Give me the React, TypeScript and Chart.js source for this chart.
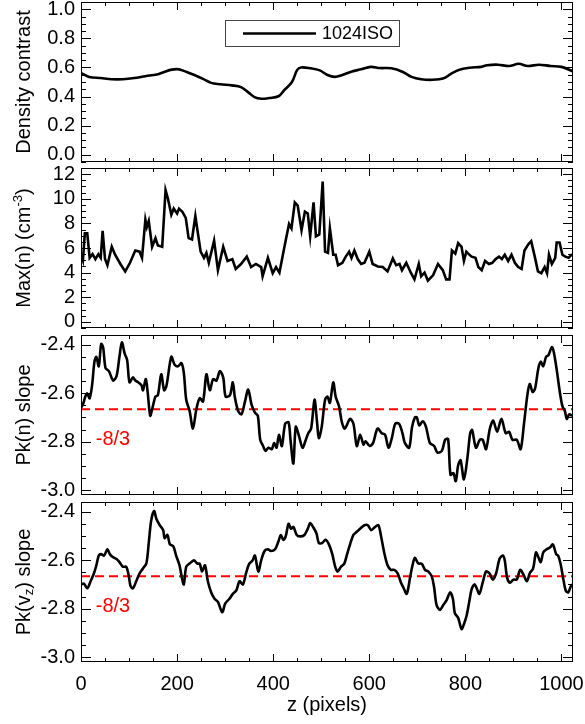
import React, { useEffect, useRef } from 'react';
import { Chart, registerables } from 'chart.js';

Chart.register(...registerables);

const FONT = '"Liberation Sans", Arial, Helvetica, sans-serif';

// ---------- Panel 1: density contrast ----------
const densityZ = [0, 17, 41, 64, 87, 111, 134, 158, 173, 189, 204, 220, 236, 255, 271, 290, 314, 333, 349, 361, 376, 392, 411, 423, 439, 450, 458, 478, 497, 513, 528, 544, 564, 583, 603, 622, 646, 670, 688, 708, 731, 755, 770, 786, 809, 833, 845, 868, 891, 911, 930, 953, 977, 1000, 1024];
const densityVal = [0.563, 0.535, 0.527, 0.519, 0.519, 0.527, 0.54, 0.552, 0.569, 0.585, 0.587, 0.569, 0.548, 0.52, 0.494, 0.485, 0.477, 0.465, 0.427, 0.396, 0.385, 0.39, 0.402, 0.444, 0.5, 0.583, 0.6, 0.594, 0.58, 0.548, 0.535, 0.548, 0.573, 0.587, 0.604, 0.596, 0.594, 0.569, 0.535, 0.519, 0.515, 0.525, 0.556, 0.583, 0.598, 0.604, 0.615, 0.619, 0.61, 0.625, 0.61, 0.619, 0.61, 0.604, 0.573];

// ---------- Panel 2: Max(n) ----------
const maxnZ = [0, 4, 8, 13, 18, 24, 30, 36, 41, 45, 50, 55, 64, 71, 82, 92, 102, 113, 122, 127, 134, 137, 141, 148, 155, 160, 169, 176, 181, 188, 193, 200, 204, 211, 218, 224, 231, 238, 249, 256, 261, 266, 277, 285, 296, 305, 315, 322, 333, 345, 354, 364, 375, 378, 389, 399, 406, 413, 419, 426, 433, 438, 445, 451, 459, 466, 472, 477, 484, 489, 496, 503, 508, 514, 518, 525, 530, 535, 544, 551, 558, 563, 569, 576, 583, 590, 600, 607, 618, 628, 638, 649, 656, 663, 668, 677, 687, 694, 703, 708, 715, 722, 733, 743, 753, 760, 767, 772, 779, 785, 792, 797, 802, 807, 813, 821, 827, 834, 841, 849, 856, 863, 870, 876, 882, 889, 896, 903, 910, 917, 923, 931, 937, 945, 951, 958, 965, 970, 974, 980, 987, 990, 996, 1002, 1008, 1015, 1022];
const maxnVal = [5.5, 5.0, 7.2, 7.2, 5.2, 5.5, 5.1, 5.5, 5.2, 7.4, 5.1, 4.6, 6.1, 5.45, 4.7, 4.1, 4.8, 5.8, 5.7, 5.2, 8.3, 7.7, 8.2, 6.1, 6.8, 6.2, 6.1, 10.7, 10.0, 8.7, 9.2, 8.8, 9.2, 8.95, 8.45, 6.8, 6.7, 8.6, 5.7, 5.2, 5.6, 4.8, 6.6, 4.2, 6.1, 4.95, 5.1, 4.3, 4.7, 5.3, 4.45, 4.7, 4.45, 3.7, 5.2, 3.95, 4.45, 4.0, 5.2, 6.6, 7.95, 7.6, 9.7, 9.45, 7.45, 8.95, 8.8, 6.95, 9.7, 6.95, 7.1, 11.4, 5.7, 5.6, 7.6, 5.45, 5.45, 4.6, 4.8, 5.3, 5.7, 5.2, 5.8, 5.1, 4.7, 4.8, 5.7, 4.7, 4.5, 4.45, 4.1, 5.15, 4.6, 4.7, 4.2, 4.8, 3.95, 3.45, 4.7, 3.7, 4.0, 3.35, 3.8, 4.7, 4.2, 3.45, 3.45, 5.8, 5.55, 6.4, 6.1, 4.95, 5.7, 5.5, 5.3, 5.2, 4.45, 4.2, 4.95, 4.7, 4.8, 5.1, 5.3, 5.1, 5.45, 4.95, 5.45, 4.8, 4.45, 4.3, 5.8, 6.3, 6.55, 5.2, 4.1, 3.95, 4.45, 3.95, 5.45, 4.7, 5.2, 6.45, 6.45, 5.45, 5.3, 5.2, 5.5];

// ---------- Panel 3: Pk(n) slope ----------
const pknZ = [0, 4, 9, 13, 18, 23, 28, 32, 37, 42, 46, 51, 58, 67, 74, 80, 85, 91, 96, 101, 108, 113, 119, 126, 129, 135, 139, 144, 148, 155, 160, 167, 173, 178, 188, 195, 202, 209, 214, 219, 226, 233, 240, 247, 254, 261, 268, 275, 282, 289, 296, 301, 310, 316, 320, 327, 334, 341, 348, 355, 362, 368, 373, 379, 384, 390, 397, 402, 407, 412, 418, 425, 432, 436, 442, 447, 454, 461, 468, 473, 479, 486, 491, 495, 501, 508, 513, 518, 525, 530, 537, 543, 549, 560, 567, 574, 581, 588, 592, 601, 608, 617, 626, 633, 640, 647, 654, 662, 669, 674, 683, 689, 695, 699, 704, 711, 718, 726, 735, 742, 751, 758, 764, 769, 775, 780, 785, 790, 797, 804, 810, 814, 822, 830, 836, 843, 851, 858, 866, 875, 884, 891, 898, 907, 915, 922, 929, 934, 940, 945, 952, 957, 962, 968, 973, 980, 984, 990, 997, 1002, 1007, 1011, 1016, 1022];
const pknVal = [-2.66, -2.647, -2.614, -2.601, -2.621, -2.568, -2.47, -2.45, -2.489, -2.397, -2.41, -2.496, -2.509, -2.548, -2.529, -2.45, -2.39, -2.437, -2.463, -2.555, -2.535, -2.548, -2.555, -2.568, -2.588, -2.542, -2.601, -2.693, -2.667, -2.614, -2.608, -2.522, -2.588, -2.568, -2.45, -2.483, -2.489, -2.476, -2.516, -2.627, -2.673, -2.746, -2.667, -2.621, -2.634, -2.522, -2.588, -2.542, -2.548, -2.509, -2.535, -2.614, -2.608, -2.555, -2.614, -2.673, -2.687, -2.637, -2.585, -2.647, -2.68, -2.693, -2.792, -2.818, -2.838, -2.825, -2.831, -2.805, -2.825, -2.772, -2.818, -2.726, -2.72, -2.792, -2.89, -2.739, -2.779, -2.825, -2.792, -2.765, -2.746, -2.627, -2.713, -2.785, -2.739, -2.627, -2.614, -2.64, -2.555, -2.614, -2.654, -2.72, -2.746, -2.706, -2.726, -2.818, -2.772, -2.812, -2.798, -2.818, -2.805, -2.746, -2.765, -2.772, -2.825, -2.785, -2.726, -2.726, -2.765, -2.805, -2.825, -2.74, -2.70, -2.70, -2.733, -2.716, -2.739, -2.805, -2.818, -2.845, -2.838, -2.792, -2.789, -2.937, -2.93, -2.963, -2.897, -2.877, -2.956, -2.871, -2.765, -2.752, -2.825, -2.792, -2.792, -2.831, -2.746, -2.713, -2.759, -2.706, -2.765, -2.759, -2.792, -2.792, -2.831, -2.726, -2.608, -2.562, -2.595, -2.581, -2.496, -2.47, -2.489, -2.45, -2.443, -2.41, -2.43, -2.502, -2.601, -2.654, -2.673, -2.706, -2.687, -2.693];

// ---------- Panel 4: Pk(v_z) slope ----------
const pkvZ = [0, 6, 13, 20, 27, 32, 37, 42, 48, 55, 60, 67, 74, 80, 87, 94, 99, 103, 108, 115, 122, 129, 136, 141, 146, 152, 157, 164, 171, 174, 180, 185, 192, 198, 205, 210, 214, 219, 226, 235, 242, 247, 252, 258, 264, 271, 278, 285, 294, 300, 309, 316, 323, 330, 337, 344, 350, 357, 362, 369, 375, 382, 389, 395, 404, 411, 416, 421, 426, 432, 437, 442, 449, 456, 465, 472, 477, 483, 490, 495, 502, 509, 516, 523, 529, 534, 541, 548, 553, 560, 567, 574, 581, 590, 597, 604, 612, 619, 624, 631, 638, 645, 652, 659, 666, 671, 678, 685, 690, 695, 702, 709, 716, 723, 730, 735, 740, 747, 754, 761, 768, 774, 778, 785, 792, 797, 803, 808, 813, 819, 823, 829, 836, 843, 850, 857, 864, 871, 878, 882, 887, 893, 900, 907, 914, 921, 928, 934, 941, 947, 952, 957, 962, 969, 976, 982, 989, 993, 998, 1004, 1009, 1014, 1019, 1023];
const pkvVal = [-2.7, -2.697, -2.716, -2.687, -2.654, -2.621, -2.581, -2.575, -2.581, -2.555, -2.575, -2.588, -2.595, -2.608, -2.627, -2.627, -2.66, -2.706, -2.716, -2.687, -2.654, -2.634, -2.614, -2.529, -2.437, -2.397, -2.43, -2.456, -2.476, -2.509, -2.496, -2.535, -2.542, -2.581, -2.621, -2.673, -2.7, -2.627, -2.614, -2.601, -2.614, -2.614, -2.647, -2.621, -2.687, -2.733, -2.759, -2.772, -2.815, -2.779, -2.759, -2.739, -2.726, -2.687, -2.7, -2.65, -2.615, -2.601, -2.581, -2.647, -2.601, -2.562, -2.555, -2.562, -2.555, -2.522, -2.496, -2.516, -2.502, -2.45, -2.47, -2.463, -2.496, -2.502, -2.496, -2.47, -2.447, -2.463, -2.489, -2.529, -2.529, -2.516, -2.535, -2.575, -2.627, -2.647, -2.627, -2.614, -2.581, -2.535, -2.496, -2.483, -2.47, -2.456, -2.456, -2.476, -2.463, -2.456, -2.496, -2.568, -2.621, -2.64, -2.64, -2.654, -2.693, -2.713, -2.739, -2.67, -2.621, -2.59, -2.614, -2.614, -2.64, -2.647, -2.667, -2.713, -2.785, -2.805, -2.785, -2.765, -2.733, -2.759, -2.818, -2.838, -2.884, -2.864, -2.825, -2.772, -2.72, -2.7, -2.713, -2.739, -2.693, -2.647, -2.654, -2.68, -2.654, -2.595, -2.581, -2.601, -2.673, -2.693, -2.68, -2.68, -2.64, -2.66, -2.687, -2.654, -2.634, -2.568, -2.588, -2.608, -2.568, -2.555, -2.548, -2.535, -2.575, -2.581, -2.614, -2.68, -2.726, -2.733, -2.71, -2.7];

// ---------- axis ticks and labels ----------
const X_TICKS = [0, 200, 400, 600, 800, 1000];
const DENSITY_TICKS = [0.0, 0.2, 0.4, 0.6, 0.8, 1.0];
const MAXN_TICKS = [0, 2, 4, 6, 8, 10, 12];
const SLOPE_TICKS = [-3.0, -2.8, -2.6, -2.4];

const REF_SLOPE = -8 / 3;
const REF_LABEL = '-8/3';
const LEGEND_LABEL = '1024ISO';
const X_TITLE = 'z (pixels)';
const Z_MIN = 0;
const Z_MAX = 1024;

type Seg = { t: string; s?: 'sup' | 'sub' };

interface PanelCfg {
  z: number[];
  v: number[];
  ticks: number[];
  min: number;
  max: number;
  major: number;
  minor: number;
  dec: number;
  title: Seg[];
  top: number;
  bottom: number;
  legend?: boolean;
  ref?: boolean;
  xaxis?: boolean;
  tension: number;
}

const PANELS: PanelCfg[] = [
  { z: densityZ, v: densityVal, ticks: DENSITY_TICKS, min: -0.05, max: 1.05, major: 0.2, minor: 0.05, dec: 1, title: [{ t: 'Density contrast' }], top: 2, bottom: 162, legend: true, tension: 0.35 },
  { z: maxnZ, v: maxnVal, ticks: MAXN_TICKS, min: -0.5, max: 12.5, major: 2, minor: 0.5, dec: 0, title: [{ t: 'Max(n) (cm' }, { t: '-3', s: 'sup' }, { t: ')' }], top: 168, bottom: 328, tension: 0 },
  { z: pknZ, v: pknVal, ticks: SLOPE_TICKS, min: -3.02, max: -2.36, major: 0.2, minor: 0.05, dec: 1, title: [{ t: 'Pk(n) slope' }], top: 335, bottom: 495, ref: true, tension: 0.3 },
  { z: pkvZ, v: pkvVal, ticks: SLOPE_TICKS, min: -3.02, max: -2.36, major: 0.2, minor: 0.05, dec: 1, title: [{ t: 'Pk(v' }, { t: 'z', s: 'sub' }, { t: ') slope' }], top: 502, bottom: 662, ref: true, xaxis: true, tension: 0.3 },
];

const W = 585;
const H = 724;
const PLOT_LEFT = 81;
const PLOT_RIGHT = 573;

function drawVerticalTitle(ctx: CanvasRenderingContext2D, segs: Seg[], cx: number, cy: number) {
  ctx.save();
  ctx.translate(cx, cy);
  ctx.rotate(-Math.PI / 2);
  ctx.textBaseline = 'middle';
  ctx.textAlign = 'left';
  ctx.fillStyle = '#000';
  const fontFor = (s: Seg) => (s.s ? `13px ${FONT}` : `20px ${FONT}`);
  const widths = segs.map((s) => {
    ctx.font = fontFor(s);
    return ctx.measureText(s.t).width;
  });
  const total = widths.reduce((a, b) => a + b, 0);
  let x = -total / 2;
  segs.forEach((s, i) => {
    ctx.font = fontFor(s);
    const dy = s.s === 'sup' ? -6 : s.s === 'sub' ? 5 : 0;
    ctx.fillText(s.t, x, dy);
    x += widths[i];
  });
  ctx.restore();
}

function makeDecor(cfg: PanelCfg) {
  return {
    id: 'panelDecor',
    afterDraw(chart: any) {
      const { ctx, chartArea: a, scales } = chart;
      const xs = scales.x;
      const ys = scales.y;
      ctx.save();
      // frame
      ctx.strokeStyle = '#000';
      ctx.lineWidth = 1;
      ctx.strokeRect(a.left + 0.5, a.top + 0.5, a.right - a.left - 1, a.bottom - a.top - 1);
      // x ticks (inward, top & bottom)
      ctx.beginPath();
      for (let k = 0; k * 50 <= Z_MAX; k++) {
        const v = k * 50;
        const px = Math.round(xs.getPixelForValue(v)) + 0.5;
        const len = v % 200 === 0 ? 8 : 4;
        ctx.moveTo(px, a.bottom);
        ctx.lineTo(px, a.bottom - len);
        ctx.moveTo(px, a.top);
        ctx.lineTo(px, a.top + len);
      }
      // y ticks (inward, left & right)
      const k0 = Math.ceil(cfg.min / cfg.minor - 1e-9);
      const k1 = Math.floor(cfg.max / cfg.minor + 1e-9);
      for (let k = k0; k <= k1; k++) {
        const v = k * cfg.minor;
        const r = v / cfg.major;
        const isMajor = Math.abs(r - Math.round(r)) < 1e-6;
        const len = isMajor ? 10 : 5;
        const py = Math.round(ys.getPixelForValue(v)) + 0.5;
        ctx.moveTo(a.left, py);
        ctx.lineTo(a.left + len, py);
        ctx.moveTo(a.right, py);
        ctx.lineTo(a.right - len, py);
      }
      ctx.stroke();
      // y title
      drawVerticalTitle(ctx, cfg.title, 24, (a.top + a.bottom) / 2);
      // reference label
      if (cfg.ref) {
        ctx.fillStyle = '#ff0000';
        ctx.font = `20px ${FONT}`;
        ctx.textAlign = 'center';
        ctx.textBaseline = 'middle';
        ctx.fillText(REF_LABEL, a.left + 32, ys.getPixelForValue(REF_SLOPE) + 30);
      }
      // legend
      if (cfg.legend) {
        const bx = a.left + 144;
        const by = a.top + 18;
        const bw = 174;
        const bh = 26;
        ctx.strokeStyle = '#444';
        ctx.lineWidth = 1;
        ctx.strokeRect(bx + 0.5, by + 0.5, bw, bh);
        ctx.strokeStyle = '#000';
        ctx.lineWidth = 2.5;
        ctx.beginPath();
        ctx.moveTo(bx + 18, by + 13.5);
        ctx.lineTo(bx + 91, by + 13.5);
        ctx.stroke();
        ctx.fillStyle = '#000';
        ctx.font = `18px ${FONT}`;
        ctx.textAlign = 'left';
        ctx.textBaseline = 'middle';
        ctx.fillText(LEGEND_LABEL, bx + 97, by + 14);
      }
      ctx.restore();
    },
  };
}

function Panel({ cfg }: { cfg: PanelCfg }) {
  const ref = useRef<HTMLCanvasElement | null>(null);
  useEffect(() => {
    if (!ref.current) return;
    const datasets: any[] = [
      {
        data: cfg.z.map((z, i) => ({ x: z, y: cfg.v[i] })),
        borderColor: '#000',
        borderWidth: 2.6,
        pointRadius: 0,
        tension: cfg.tension,
        fill: false,
      },
    ];
    if (cfg.ref) {
      datasets.push({
        data: [
          { x: Z_MIN, y: REF_SLOPE },
          { x: Z_MAX, y: REF_SLOPE },
        ],
        borderColor: '#ff0000',
        borderWidth: 2,
        borderDash: [9, 5],
        pointRadius: 0,
        fill: false,
      });
    }
    const chart = new Chart(ref.current, {
      type: 'line',
      data: { datasets },
      options: {
        responsive: false,
        animation: false,
        devicePixelRatio: 1,
        layout: {
          padding: { left: 0, right: W - PLOT_RIGHT, top: cfg.top, bottom: cfg.xaxis ? 0 : H - cfg.bottom },
        },
        plugins: { legend: { display: false }, tooltip: { enabled: false } },
        scales: {
          x: {
            type: 'linear',
            min: Z_MIN,
            max: Z_MAX,
            display: !!cfg.xaxis,
            grid: { display: false, drawTicks: false },
            border: { display: false },
            afterBuildTicks: (s: any) => {
              s.ticks = X_TICKS.map((value) => ({ value }));
            },
            ticks: {
              autoSkip: false,
              maxRotation: 0,
              padding: 10,
              color: '#000',
              font: { family: FONT, size: 20 },
              callback: (v: any) => String(v),
            },
            title: {
              display: true,
              text: X_TITLE,
              color: '#000',
              font: { family: FONT, size: 20 },
              padding: { top: 0, bottom: 7 },
            },
            afterFit: (s: any) => {
              if (cfg.xaxis) s.height = H - cfg.bottom;
              s.paddingLeft = 0;
              s.paddingRight = 0;
            },
          },
          y: {
            type: 'linear',
            min: cfg.min,
            max: cfg.max,
            grid: { display: false, drawTicks: false },
            border: { display: false },
            afterBuildTicks: (s: any) => {
              s.ticks = cfg.ticks.map((value) => ({ value }));
            },
            ticks: {
              autoSkip: false,
              padding: 6,
              color: '#000',
              font: { family: FONT, size: 20 },
              callback: (v: any) => Number(v).toFixed(cfg.dec),
            },
            afterFit: (s: any) => {
              s.width = PLOT_LEFT;
              s.paddingTop = 0;
              s.paddingBottom = 0;
            },
          },
        },
      },
      plugins: [makeDecor(cfg)],
    });
    return () => chart.destroy();
  }, [cfg]);
  return (
    <canvas
      ref={ref}
      width={W}
      height={H}
      style={{ position: 'absolute', left: 0, top: 0, width: W, height: H }}
    />
  );
}

export default function App() {
  return (
    <div style={{ position: 'fixed', left: 0, top: 0, width: W, height: H, background: '#fff' }}>
      {PANELS.map((p, i) => (
        <Panel key={i} cfg={p} />
      ))}
    </div>
  );
}
